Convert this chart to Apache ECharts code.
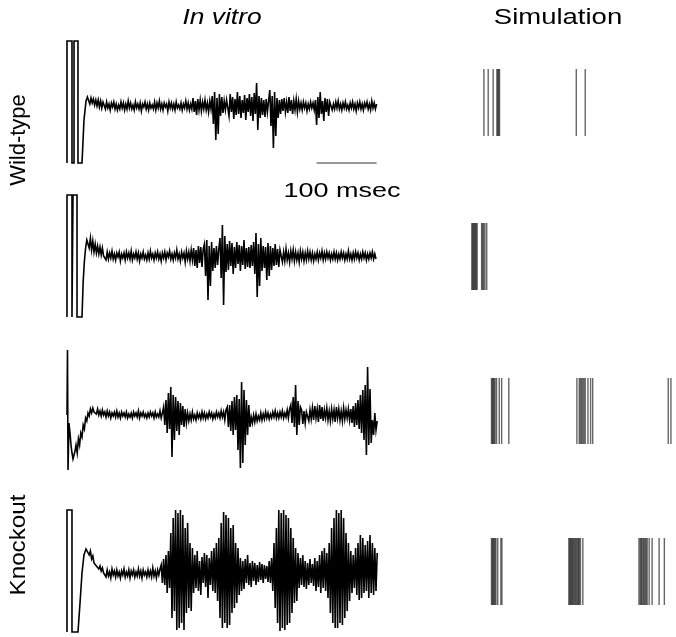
<!DOCTYPE html>
<html>
<head>
<meta charset="utf-8">
<script src="https://cdn.jsdelivr.net/npm/echarts@6/dist/echarts.min.js"></script>
<style>html,body{margin:0;padding:0;background:#fff}#c{width:676px;height:637px}</style>
</head>
<body>
<div id="c"></div>
<script>
// ---------- DATA ----------
// sample step of the in vitro recordings (ms)
const dt = 2;
// Wild-type, trial 1: stimulus artefact [ms, amplitude] then sampled trace
const wt1Artifact = [[0,-57],[0,65],[8.3,65],[8.3,-57],[11.7,-57],[11.7,65],[18.3,65],[18.3,-57],[25,-57],[28.3,-14],[31.7,5],[34,9]];
const wt1Start = 36;
const wt1Samples = [
9,2,8,3,7,1,6,0,6,-1,5,-2,4,
3,-3,4,-2,2,-4,3,-1,4,-3,2,-4,1,-3,4,-2,3,-4,2,-3,
5,-2,3,-3,1,-4,4,-2,2,-3,3,-5,2,-1,4,-3,2,-4,3,-2,
1,-3,4,-4,3,-2,5,-3,2,-4,3,-1,2,-5,4,-2,3,-3,2,-4,
4,-2,1,-3,3,-4,2,-2,5,-3,3,-4,2,-3,
8,-6,5,-9,7,-4,6,
-5,4,-3,6,-4,3,-6,5,-3,
10,-18,14,-34,8,-28,12,-10,9,-7,
5,-4,6,
8,-10,12,-6,9,-13,7,-9,14,-8,10,-12,6,-7,11,-14,8,-6,12,-10,
9,-15,13,-8,23,-24,10,-12,8,-9,6,-11,7,
-6,5,
16,-20,10,-42,14,-30,8,-12,
6,-8,7,-5,8,-6,4,-7,9,-5,6,-8,5,-4,7,-6,5,-3,
3,-4,4,-2,3,-5,2,-3,4,-2,3,-4,
6,-19,9,-12,14,-8,5,-15,8,-6,7,-10,4,
3,-4,2,-3,4,-2,5,-3,2,-4,3,-2,4,-3,1,-4,3,-2,4,-3,2,-5,3,-2,4,-3,2,-4,3,-1,4,-3,2,-4,5,-2,3,-3,2
];
// Wild-type, trial 2
const wt2Artifact = [[0,-61],[0,61],[8.3,61],[8.3,-61],[10,-61],[10,61],[16.7,61],[16.7,-61],[25,-61],[27,-25],[29,-5],[31,8],[33,16]];
const wt2Start = 35;
const wt2Samples = [
14,8,18,6,15,4,12,3,10,2,9,1,8,0,
2,-4,4,-3,3,-2,5,-3,2,-4,3,-1,4,-5,2,-2,3,-4,4,-2,
3,-3,5,-4,2,-2,4,-3,3,-5,2,-2,4,-3,1,-4,3,-3,5,-2,
2,-4,3,-2,4,-3,2,-5,3,-2,4,-4,3,-1,5,-3,2,-4,3,-2,
6,-3,2,-5,4,-2,3,-6,5,-3,4,-5,6,-4,
8,-10,6,-12,10,-7,9,-11,7,
12,-20,16,-44,10,-30,14,-15,
8,-12,10,-9,7,
18,-22,31,-49,20,
-16,12,-14,15,-10,13,-18,9,-12,14,-8,11,-15,10,-9,16,-13,8,-11,
9,-12,11,-10,
14,-18,23,-41,12,-30,18,-15,10,
-12,9,-24,13,-20,10,-14,8,-10,12,-9,7,-11,6,
5,-6,4,-5,7,-4,3,-6,5,-3,6,-5,4,-4,3,-6,5,-3,4,-5,
3,-4,5,-3,4,-4,3,-5,2,-3,4,-4,3,-2,5,-4,3,-3,4,-2,
3,-4,2,-3,4,-3,3,-4,2,-3,4,-2,3,-4,2,-3,5,-3,2,-4,
3,-3,4,-2,3,-4,2,-3,4,-2,3,-4,2,-3,3,-2,4,-3,2,-3
];
// Knockout, trial 1
const ko1Artifact = [[0,0],[0.8,65],[1.7,-55],[3.3,-8],[5,-18],[6.7,-30],[8.3,-38],[10,-44],[11.7,-40],[13.3,-36]];
const ko1Start = 15;
const ko1Samples = [
-30,-38,-24,-30,-18,-22,-10,-14,-3,-6,2,-1,6,2,7,3,
5,1,6,0,4,-1,5,0,3,-2,4,-1,3,-3,2,-1,3,-2,4,-2,
2,-3,3,-1,2,-2,3,-3,1,-2,2,-3,3,-1,2,-2,4,-3,2,-1,
3,-2,1,-3,2,-2,3,-1,2,-3,3,-2,1,-2,4,-3,2,
8,-10,15,-18,22,-14,28,-42,20,-25,18,-16,14,-20,12,-10,9,-12,6,-8,
2,-6,1,-5,3,-4,0,-5,2,-3,1,-4,3,-3,2,-4,1,-3,3,-2,
2,-4,1,-3,3,-2,2,-3,4,-2,3,-5,5,
8,-12,10,-16,14,-20,18,-15,20,-35,16,-53,33,-48,25,-30,15,-20,10,-12,
-2,-8,0,-7,1,-6,-1,-5,2,-5,1,-4,3,-3,2,-4,1,-3,3,-2,
4,-3,2,-3,3,-2,4,-3,2,-2,5,-3,6,
10,-8,18,-12,30,-20,14,-10,8,
5,-9,4,-8,3,
2,-6,5,-4,7,-5,9,-3,6,-7,10,-4,8,-6,5,-3,7,-5,4,-6,
6,-4,5,-7,8,-3,6,-5,4,-6,7,-4,5,-3,6,-5,
6,-8,9,-12,12,-10,15,-14,
20,-18,25,-25,30,-40,48,-30,26,
-28,-5,-20,2,-15,-6
];
// Knockout, trial 2
const ko2Artifact = [[0,-59],[0,63],[8.3,63],[8.3,-59],[18.3,-59],[21.7,-30],[25,0],[28.3,18],[31.7,24],[33.3,26]];
const ko2Start = 35;
const ko2Samples = [
24,18,22,14,17,10,12,7,9,4,7,2,5,0,
2,-4,3,-3,1,-5,4,-2,2,-4,3,-3,1,-5,2,-2,4,-4,1,-3,
3,-5,2,-2,3,-4,1,-3,4,-3,2,-5,3,-2,1,-4,3,-3,2,-4,
5,-3,2,-5,3,-2,4,
8,-10,14,-12,18,-20,22,-15,
40,-45,55,-38,63,-57,60,-55,63,-50,58,-57,45,-40,50,-35,30,-38,25,
-20,18,-15,22,-18,12,-22,16,-10,20,-14,18,-25,15,-12,22,-18,25,-20,30,-28,35,
-45,50,-55,61,-50,58,-55,55,-52,45,-40,48,-35,30,-30,25,-22,
15,-18,12,-16,14,-10,18,-12,10,-14,12,-8,10,-12,8,-9,11,-7,9,-10,8,-6,
7,-9,12,-10,15,-18,
30,-35,45,-50,63,-58,60,-55,63,-57,58,-52,55,-50,45,-40,35,-30,25,-28,20,-15,
15,-12,18,-14,12,-16,10,-12,14,-10,9,-13,15,-18,12,-14,18,-20,22,-15,25,-18,20,
-25,30,-40,45,-50,55,-55,63,-55,60,-50,63,-52,55,-45,40,-38,30,-28,22,-20,
18,-15,25,-22,30,-27,38,-25,35,-20,28,-18,32,-25,38,-20,30,-22,25,-18,20
];
// Simulation spike times (ms)
const simWt1 = [28.3,35.5,43.8,50,51.5,53,54.5,183,198];
const simWt2 = [8,9.5,11,12.5,14,15.5,17,24.5,26,28,30,33];
const simKo1 = [41,42.5,44,45.5,47,49.5,54,58,70,184,188,190,192,194,196,198,202.5,207,210.5,337,341.5];
const simKo2 = [41,42.5,44,45.5,47,48.5,51.5,56.7,58.5,170.5,172,173.5,175,176.7,178,180,181.5,183.3,185,186.7,188,190,194,288,290,291.7,293,295,296.5,298.3,300,301.7,305,310,321.7,330.5];
// scale bar length (ms)
const scaleBarMs = 100;
// texts
const titleLeft = 'In vitro';
const titleRight = 'Simulation';
const rowLabels = ['Wild-type', 'Knockout'];
const scaleBarLabel = '100 msec';

// ---------- BUILD ----------
function buildTrace(art, start, samples){
  return art.concat(samples.map((v,i)=>[start + i*dt, v]));
}
const traces = [
  {data: buildTrace(wt1Artifact, wt1Start, wt1Samples), min:-57, max:65, top:41, h:122},
  {data: buildTrace(wt2Artifact, wt2Start, wt2Samples), min:-61, max:61, top:195, h:122},
  {data: buildTrace(ko1Artifact, ko1Start, ko1Samples), min:-55, max:65, top:350, h:120},
  {data: buildTrace(ko2Artifact, ko2Start, ko2Samples), min:-59, max:63, top:510, h:122}
];
const sims = [
  {data: simWt1, top:69, h:67},
  {data: simWt2, top:223, h:67},
  {data: simKo1, top:378, h:66},
  {data: simKo2, top:538, h:67}
];

const grid = [], xAxis = [], yAxis = [], series = [];
const FONT = '"Liberation Sans", Arial, sans-serif';
traces.forEach((t,i)=>{
  grid.push({left:67, width:312, top:t.top, height:t.h});
  xAxis.push({type:'value', gridIndex:i, min:0, max:520, show:false});
  yAxis.push({type:'value', gridIndex:i, min:t.min, max:t.max, show:false});
  series.push({type:'line', xAxisIndex:i, yAxisIndex:i, data:t.data, showSymbol:false, symbol:'none',
    clip:false, lineStyle:{color:'#000', width:1.6, join:'miter'}, silent:true, animation:false});
});
sims.forEach((s,k)=>{
  const i = k + 4;
  grid.push({left:467, width:210, top:s.top, height:s.h});
  xAxis.push({type:'value', gridIndex:i, min:0, max:350, show:false});
  yAxis.push({type:'value', gridIndex:i, min:0, max:1, show:false});
  series.push({type:'custom', xAxisIndex:i, yAxisIndex:i, data:s.data.map(v=>[v]), encode:{x:0},
    clip:false, animation:false, silent:true,
    renderItem:function(params, api){
      const t = api.value(0);
      const p0 = api.coord([t,0]), p1 = api.coord([t,1]);
      return {type:'line', shape:{x1:p0[0], y1:p0[1], x2:p1[0], y2:p1[1]},
        style:{stroke:'rgba(0,0,0,0.6)', lineWidth:1.4}};
    }});
});
// scale bar: ends with the first trace
const traceEnd = wt1Start + (wt1Samples.length-1)*dt;
series.push({type:'custom', xAxisIndex:0, yAxisIndex:0, data:[[traceEnd - scaleBarMs, traceEnd]], encode:{x:[0,1]},
  clip:false, animation:false, silent:true,
  renderItem:function(params, api){
    const a = api.coord([api.value(0), traces[0].min]);
    const b = api.coord([api.value(1), traces[0].min]);
    return {type:'line', shape:{x1:a[0], y1:a[1], x2:b[0], y2:b[1]}, style:{stroke:'#777', lineWidth:1.5}};
  }});

const chart = echarts.init(document.getElementById('c'), null, {renderer:'canvas'});
chart.setOption({
  backgroundColor:'#fff',
  animation:false,
  grid, xAxis, yAxis, series,
  graphic:[
    {type:'text', x:222, y:7, scaleX:1.2, style:{text:titleLeft, font:'italic 22px '+FONT, fill:'#000', textAlign:'center'}},
    {type:'text', x:558, y:7, scaleX:1.25, style:{text:titleRight, font:'22px '+FONT, fill:'#000', textAlign:'center'}},
    {type:'text', x:342, y:181, scaleX:1.35, style:{text:scaleBarLabel, font:'20px '+FONT, fill:'#000', textAlign:'center'}},
    {type:'text', x:19, y:140, rotation:Math.PI/2, style:{text:rowLabels[0], font:'22px '+FONT, fill:'#000', textAlign:'center', textVerticalAlign:'middle'}},
    {type:'text', x:19, y:545, rotation:Math.PI/2, scaleX:1.1, style:{text:rowLabels[1], font:'22px '+FONT, fill:'#000', textAlign:'center', textVerticalAlign:'middle'}}
  ]
});
</script>
</body>
</html>
